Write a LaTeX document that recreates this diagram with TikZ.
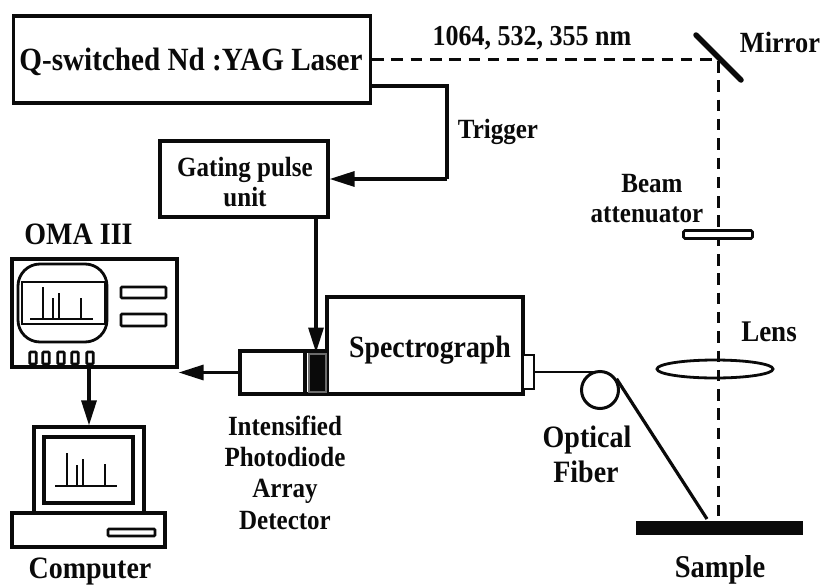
\documentclass[tikz,border=0pt]{standalone}
\usepackage{fontspec}
\setmainfont{Liberation Serif}[BoldFont={Liberation Serif Bold},BoldFeatures={FakeStretch=0.9}]
\usetikzlibrary{arrows.meta}
\definecolor{ink}{gray}{0.04}
\tikzset{
  ln/.style={draw=ink,line width=3.2pt},
  box/.style={ln,rectangle,inner sep=0pt,fill=white},
  thinbox/.style={draw=ink,line width=2.8pt,rectangle,inner sep=0pt},
  txt/.style={inner sep=0pt,text=ink,font=\bfseries\fontsize{#1}{30}\selectfont,anchor=base},
  txt/.default=27.8,
  arr/.style={ln,-{Triangle[length=25pt,width=15pt]}},
  beam/.style={draw=ink,line width=3pt,dash pattern=on 11.5pt off 7.8pt},
  spike/.style={draw=ink,line width=2.8pt},
}
\begin{document}
\begin{tikzpicture}[x=1pt,y=-1pt]
\useasboundingbox (0,0) rectangle (822,584);
% beam first, so that the optics lie on it
\coordinate (corner) at (718,59.5);
\coordinate (beamend) at (718,522);
\coordinate (fibreend) at (707,519);
\node[box,minimum width=357pt,minimum height=87pt] (laser) at (192,59.5) {};
\draw[beam] (laser.east) -- (corner) -- (beamend);
\node[txt=32.4] (lasertxt) at (191,70) {Q-switched Nd :YAG Laser};
\node[box,minimum width=168pt,minimum height=76pt] (gate) at (244,179) {};
\node[txt] (gate1) at (245,176) {Gating pulse};
\node[txt] (gate2) at (245,206) {unit};
\coordinate (trigstart) at (371,86);
\coordinate (trigout) at (447,86);
\coordinate (trigin) at (447,179);
\draw[ln] (trigstart) -- (trigout) -- (trigin);
\draw[arr] (trigin) -- (gate.east);
\node[txt] (trig) at (498,138) {Trigger};
\node[txt=28.9] (wl) at (532,45) {1064, 532, 355 nm};
% spectrograph + detector
\node[box,minimum width=196pt,minimum height=97pt] (spec) at (425,345.5) {};
\node[txt=30.9] (spectxt) at (430,357) {Spectrograph};
\node[box,minimum width=87pt,minimum height=43pt] (det) at (283.5,372.5) {};
\node[draw=ink!60,line width=2pt,fill=ink,inner sep=0pt,minimum width=17pt,minimum height=38pt] (ccd) at (317,372.5) {};
\draw[ln] (305,351) coordinate (divtop) -- (305,394) coordinate (divbot);
\node[box,line width=2.5pt,minimum width=11pt,minimum height=34pt] (conn) at (528.5,372) {};
\coordinate (gateout) at (316,217);
\draw[arr] (gateout) -- (gateout |- ccd.north);
\node[txt] (d1) at (285,435) {Intensified};
\node[txt] (d2) at (285,466) {Photodiode};
\node[txt] (d3) at (285,497) {Array};
\node[txt] (d4) at (285,529) {Detector};
% OMA
\node[box,minimum width=165pt,minimum height=108pt] (oma) at (94.5,313) {};
\node[txt=31.1] (omatxt) at (78.5,244) {OMA III};
\node[thinbox,rounded corners=22pt,minimum width=89pt,minimum height=78pt] (crt) at (62.5,303) {};
\node[thinbox,minimum width=83pt,minimum height=42pt] (omascr) at (63.5,303) {};
\draw[spike] (30,319) coordinate (oa) -- (93,319) coordinate (ob);
\foreach \x/\t in {43/287,53/298,59/293,81/298} \draw[spike] (\x,\t) -- (\x,319);
\node[thinbox,rounded corners=1pt,minimum width=45pt,minimum height=11pt] (omab1) at (143.5,292.5) {};
\node[thinbox,rounded corners=1pt,minimum width=45pt,minimum height=12pt] (omab2) at (143.5,320) {};
\foreach \x in {33,46,61,75,90} \node[thinbox,rounded corners=1pt,minimum width=6.5pt,minimum height=12pt] at (\x,358) {};
\draw[arr] (det.west) -- (oma.east |- det.west);
% computer
\node[box,minimum width=110pt,minimum height=86pt] (mon) at (89,470) {};
\node[box,minimum width=89pt,minimum height=66pt] (monscr) at (88.5,470) {};
\node[box,minimum width=153pt,minimum height=34pt] (base) at (88.5,530) {};
\node[thinbox,rounded corners=1pt,minimum width=47pt,minimum height=7pt] (slot) at (131.5,532.5) {};
\draw[spike] (55,486) coordinate (ca) -- (117,486) coordinate (cb);
\foreach \x/\t in {67/453,77/465,83/459,105/464} \draw[spike] (\x,\t) -- (\x,486);
\draw[arr] (oma.south -| mon.north) -- (mon.north);
\node[txt=31.1] (comp) at (90,578) {Computer};
% optics
\coordinate (m1) at (696,35);
\coordinate (m2) at (741,80);
\draw[draw=ink,line width=5.5pt,line cap=round] (m1) -- (m2);
\node[txt=29.3] (mirror) at (780,52) {Mirror};
\node[txt] (beam1) at (652,192) {Beam};
\node[txt] (beam2) at (647,222) {attenuator};
\node[thinbox,fill=white,rounded corners=1.5pt,minimum width=69pt,minimum height=8pt] (att) at (718,234.5) {};
\draw[draw=ink,line width=2.8pt] (715,369) ellipse (58pt and 9pt);
\coordinate (lens) at (715,369);
\node[txt=30] (lenstxt) at (769,341) {Lens};
\node[draw=ink,fill=ink,inner sep=0pt,minimum width=166pt,minimum height=13pt] (sample) at (719.5,528) {};
\node[txt=31.7] (samtxt) at (720,577) {Sample};
% fibre
\node[circle,draw=ink,line width=3pt,inner sep=0pt,minimum size=37pt] (spool) at (600,390) {};
\draw[ln,line width=2.8pt] (conn.east) -- (conn.east -| spool.north);
\draw[ln] (spool.34) -- (fibreend);
\node[txt=31.1] (f1) at (587,447) {Optical};
\node[txt=31.1] (f2) at (586,482) {Fiber};
\end{tikzpicture}
\end{document}
